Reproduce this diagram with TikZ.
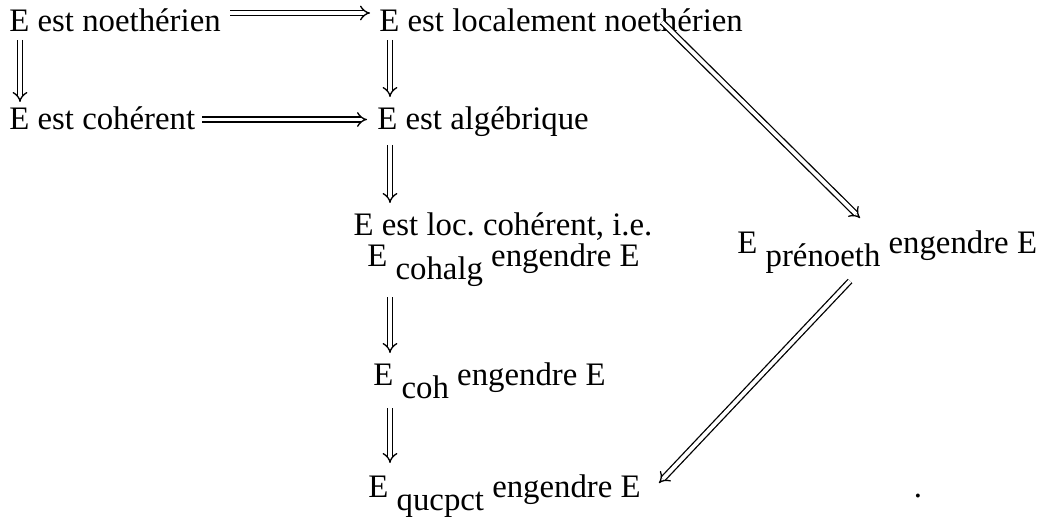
\documentclass[tikz,border=0pt]{standalone}
\usepackage{fontspec}
\setmainfont{Liberation Serif}
\usetikzlibrary{arrows.meta,calc}
\newcommand{\lowsub}[1]{\raisebox{-6.75pt}{#1}}
\frenchspacing
\begin{document}
\begin{tikzpicture}[x=0.5pt,y=-0.5pt,
  lbl/.style={inner sep=0pt,anchor=base west,font=\fontsize{16.4}{19}\selectfont},
  imp/.style={double,line width=0.65pt,double distance=1.9pt,-{Implies[scale=1.35]}}]
\useasboundingbox (0,0) rectangle (1037,518);
\node[lbl] (n1) at (9,31.5) {E est noethérien};
\node[lbl] (n2) at (379,31.5) {E est localement noethérien};
\node[lbl] (n3) at (9,129.5) {E est cohérent};
\node[lbl] (n4) at (377,129.5) {E est algébrique};
\node[lbl,anchor=base] (n5a) at (503,235) {E est loc. cohérent, i.e.};
\node[lbl,anchor=base] (n5b) at (503.5,266) {E \lowsub{cohalg} engendre E};
\node[lbl] (n6) at (373,385) {E \lowsub{coh} engendre E};
\node[lbl] (n7) at (368,497) {E \lowsub{qucpct} engendre E};
\node[lbl] (n8) at (737,253) {E \lowsub{prénoeth} engendre E};
\node[lbl,anchor=base] (dot) at (918,497) {.};
% arrows
\draw[imp] ($(n1.base west)+(221,-18.5)$) -- ($(n2.base west)+(-9,-18.5)$);
\draw[imp] ($(n3.base west)+(193,-10)$) -- ($(n4.base west)+(-10,-10)$);
\draw[imp] ($(n1.base west)+(11,8.5)$) -- ($(n3.base west)+(11,-27.5)$);
\draw[imp] ($(n2.base west)+(11,8.5)$) -- ($(n4.base west)+(13,-32.5)$);
\draw[imp] ($(n4.base west)+(13,15.5)$) -- ($(n5a.base)+(-113,-32)$);
\draw[imp] ($(n5b.base)+(-113.5,31)$) -- ($(n6.base west)+(17,-32)$);
\draw[imp] ($(n6.base west)+(17,23)$) -- ($(n7.base west)+(22,-34)$);
\draw[imp] ($(n2.base west)+(283,-9.5)$) -- ($(n8.base west)+(123,-35)$);
\draw[imp] ($(n8.base west)+(113,28)$) -- ($(n7.base west)+(291,-14)$);
\end{tikzpicture}
\end{document}
